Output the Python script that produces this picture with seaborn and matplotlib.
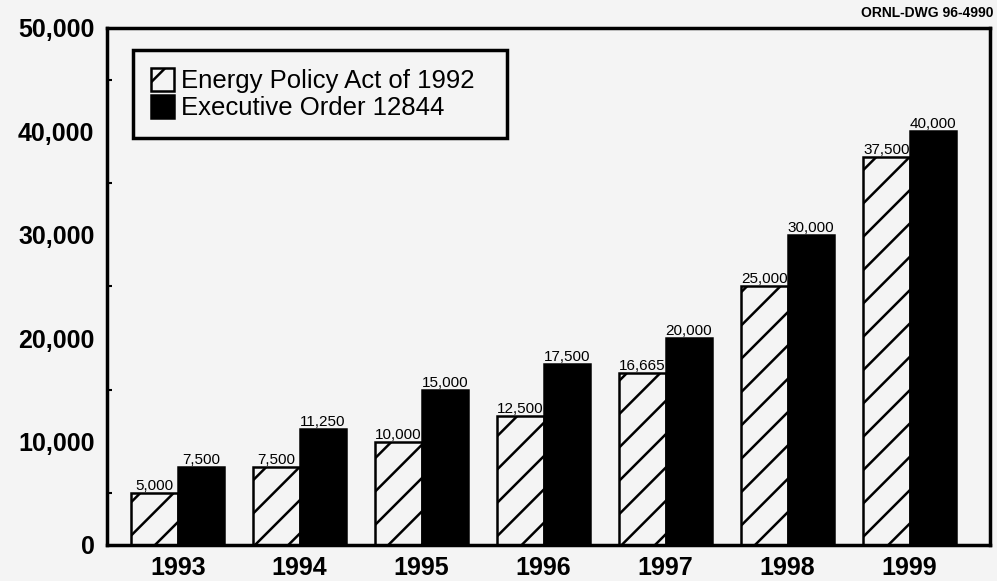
import pandas as pd
import matplotlib.pyplot as plt
import seaborn as sns

# dados
anos = ['1993', '1994', '1995', '1996', '1997', '1998', '1999']
energy_policy = [5000, 7500, 10000, 12500, 16665, 25000, 37500]
executive_order = [7500, 11250, 15000, 17500, 20000, 30000, 40000]
series = ['Energy Policy Act of 1992', 'Executive Order 12844']
y_ticks = [0, 10000, 20000, 30000, 40000, 50000]

tabela = pd.DataFrame({
    'ano': anos * 2,
    'valor': energy_policy + executive_order,
    'serie': [series[0]] * len(anos) + [series[1]] * len(anos),
})

bg = '#f4f4f4'
sns.set_style('white')
plt.rcParams['font.family'] = ['Liberation Sans', 'DejaVu Sans']
plt.rcParams['text.color'] = 'black'
plt.rcParams['xtick.color'] = 'black'
plt.rcParams['ytick.color'] = 'black'
plt.rcParams['xtick.labelcolor'] = 'black'
plt.rcParams['ytick.labelcolor'] = 'black'
plt.rcParams['hatch.linewidth'] = 1.8
plt.rcParams['hatch.color'] = 'black'

fig, ax = plt.subplots(figsize=(9.97, 5.81), dpi=100)
fig.patch.set_facecolor(bg)
ax.set_facecolor(bg)
fig.subplots_adjust(left=0.1073, right=0.993, top=0.952, bottom=0.062)

sns.barplot(data=tabela, x='ano', y='valor', hue='serie', palette=['white', 'black'],
            edgecolor='black', linewidth=1.8, width=0.76, saturation=1, legend=False, ax=ax)

for p in ax.containers[0]:
    p.set_hatch('/')
    p.set_facecolor(bg)

for c in ax.containers:
    ax.bar_label(c, labels=[f'{v:,.0f}' for v in c.datavalues], padding=0,
                 fontsize=11, color='black')

ax.set_xlim(-0.58, 6.66)
ax.set_ylim(0, 50000)
ax.set_yticks(y_ticks)
ax.set_yticklabels([f'{v:,}' for v in y_ticks], fontsize=18, fontweight='bold')
ax.set_yticks(range(5000, 50000, 10000), minor=True)
ax.tick_params(axis='y', which='major', direction='in', length=7, width=2, pad=9)
ax.tick_params(axis='y', which='minor', direction='in', length=3.5, width=1.5, left=True)
ax.tick_params(axis='x', length=0, pad=8, labelsize=18)
for t in ax.get_xticklabels():
    t.set_fontweight('bold')
ax.set_xlabel('')
ax.set_ylabel('')

for s in ax.spines.values():
    s.set_visible(True)
    s.set_color('black')
    s.set_linewidth(2.5)

leg = ax.legend(ax.containers, [series[0] + '  ', series[1]], loc='upper left',
                bbox_to_anchor=(0.029, 0.957),
                fontsize=18.5, frameon=True, fancybox=False, framealpha=1,
                handlelength=0.9, handleheight=1.0, handletextpad=0.3,
                labelspacing=0.05, borderpad=0.7, borderaxespad=0)
leg.get_frame().set_edgecolor('black')
leg.get_frame().set_linewidth(2.5)
leg.get_frame().set_facecolor(bg)

fig.text(0.996, 0.978, 'ORNL-DWG 96-4990', ha='right', va='center',
         fontsize=10, fontweight='bold')

plt.savefig('out.png', dpi=100, facecolor=bg)
